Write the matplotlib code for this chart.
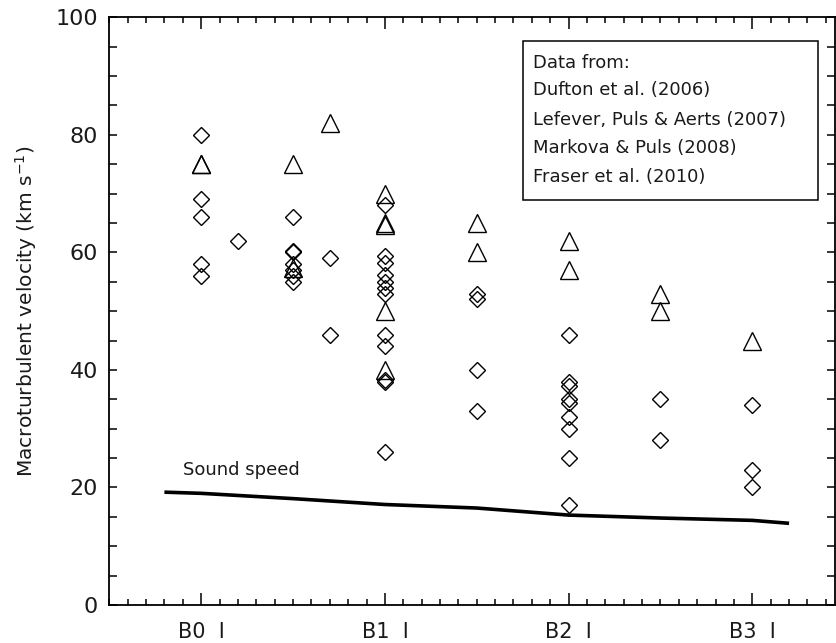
import matplotlib
matplotlib.use("Agg")
import matplotlib.pyplot as plt
from matplotlib.patches import Rectangle
from matplotlib.ticker import MultipleLocator

plt.rcParams['font.family'] = ['DejaVu Sans']

# ---- data ----
tick_positions = [0, 1, 2, 3]
tick_labels = ["B0  I", "B1  I", "B2  I", "B3  I"]

diamond_x = [0, 0, 0, 0, 0,
             0.2,
             0.5, 0.5, 0.5, 0.5, 0.5, 0.5, 0.5,
             0.7, 0.7,
             1, 1, 1, 1, 1, 1, 1, 1, 1, 1, 1, 1,
             1.5, 1.5, 1.5, 1.5,
             2, 2, 2, 2, 2, 2, 2, 2, 2,
             2.5, 2.5,
             3, 3, 3]
diamond_y = [80, 69, 66, 58, 56,
             62,
             66, 60, 60.2, 58, 57, 56, 55,
             59, 46,
             68, 59.3, 58.2, 56.2, 55, 54, 53, 46, 44, 38, 38.3, 26,
             53, 52, 40, 33,
             46, 38, 37.2, 35, 34.3, 32, 30, 25, 17,
             35, 28,
             34, 23, 20]

triangle_x = [0, 0, 0.5, 0.5, 0.7, 1, 1, 1, 1, 1, 1.5, 1.5, 2, 2, 2.5, 2.5, 3]
triangle_y = [75, 75.1, 75, 57.3, 82, 70, 65, 64.7, 50, 40, 65, 60, 62, 57, 53, 50, 45]

sound_x = [-0.2, 0, 0.5, 1.0, 1.5, 2.0, 2.5, 3.0, 3.2]
sound_y = [19.2, 19.0, 18.1, 17.1, 16.5, 15.3, 14.8, 14.4, 13.9]

legend_lines = ["Data from:",
                "Dufton et al. (2006)",
                "Lefever, Puls & Aerts (2007)",
                "Markova & Puls (2008)",
                "Fraser et al. (2010)"]

# ---- figure ----
W, H = 836, 643
fig = plt.figure(figsize=(W / 100, H / 100), dpi=100)
left, right, bottom, top = 109.3, 835.0, 605.0, 17.3
ax = fig.add_axes([left / W, (H - bottom) / H, (right - left) / W, (bottom - top) / H])

ax.plot(diamond_x, diamond_y, linestyle='none', marker='D', markersize=8.3,
        markerfacecolor='none', markeredgecolor='black', markeredgewidth=1.0)
ax.plot(triangle_x, triangle_y, linestyle='none', marker='^', markersize=12.5,
        markerfacecolor='none', markeredgecolor='black', markeredgewidth=1.0)
ax.plot(sound_x, sound_y, color='black', linewidth=2.6, solid_capstyle='butt')

txt_color = '#1a1a1a'
ax.text(-0.1, 22.9, "Sound speed", fontsize=13, va='center', ha='left', color=txt_color)

ax.set_xlim(-0.5, 3.45)
ax.set_ylim(0, 100)

ax.set_xticks(tick_positions)
ax.set_xticklabels(tick_labels)
ax.xaxis.set_minor_locator(MultipleLocator(0.1))
ax.yaxis.set_major_locator(MultipleLocator(20))
ax.yaxis.set_minor_locator(MultipleLocator(5))

for s in ax.spines.values():
    s.set_linewidth(1.3)

ax.tick_params(axis='x', which='major', direction='in', length=8.6, width=1.1,
               top=True, bottom=True, labelsize=15, pad=12, labelcolor=txt_color)
ax.tick_params(axis='x', which='minor', direction='in', length=4.3, width=1.1,
               top=True, bottom=True)
ax.tick_params(axis='y', which='major', direction='in', length=5.5, width=1.1,
               left=True, right=True, labelsize=16, pad=8, labelcolor=txt_color)
ax.tick_params(axis='y', which='minor', direction='in', length=5.5, width=1.1,
               left=True, right=True)

ax.set_ylabel("Macroturbulent velocity (km s$^{-1}$)", fontsize=14.5, labelpad=12,
              color=txt_color)

# legend-like text box
bx0, bx1, by0, by1 = 0.5697, 0.9766, 0.6891, 0.9602
ax.add_patch(Rectangle((bx0, by0), bx1 - bx0, by1 - by0, transform=ax.transAxes,
                       fill=False, edgecolor='black', linewidth=1.1))
line_y = [0.9134, 0.8681, 0.8170, 0.7687, 0.7206]
for txt, yy in zip(legend_lines, line_y):
    ax.text(0.5834, yy, txt, transform=ax.transAxes, fontsize=13, va='baseline',
            ha='left', color=txt_color)

fig.savefig("out.png", dpi=100)
